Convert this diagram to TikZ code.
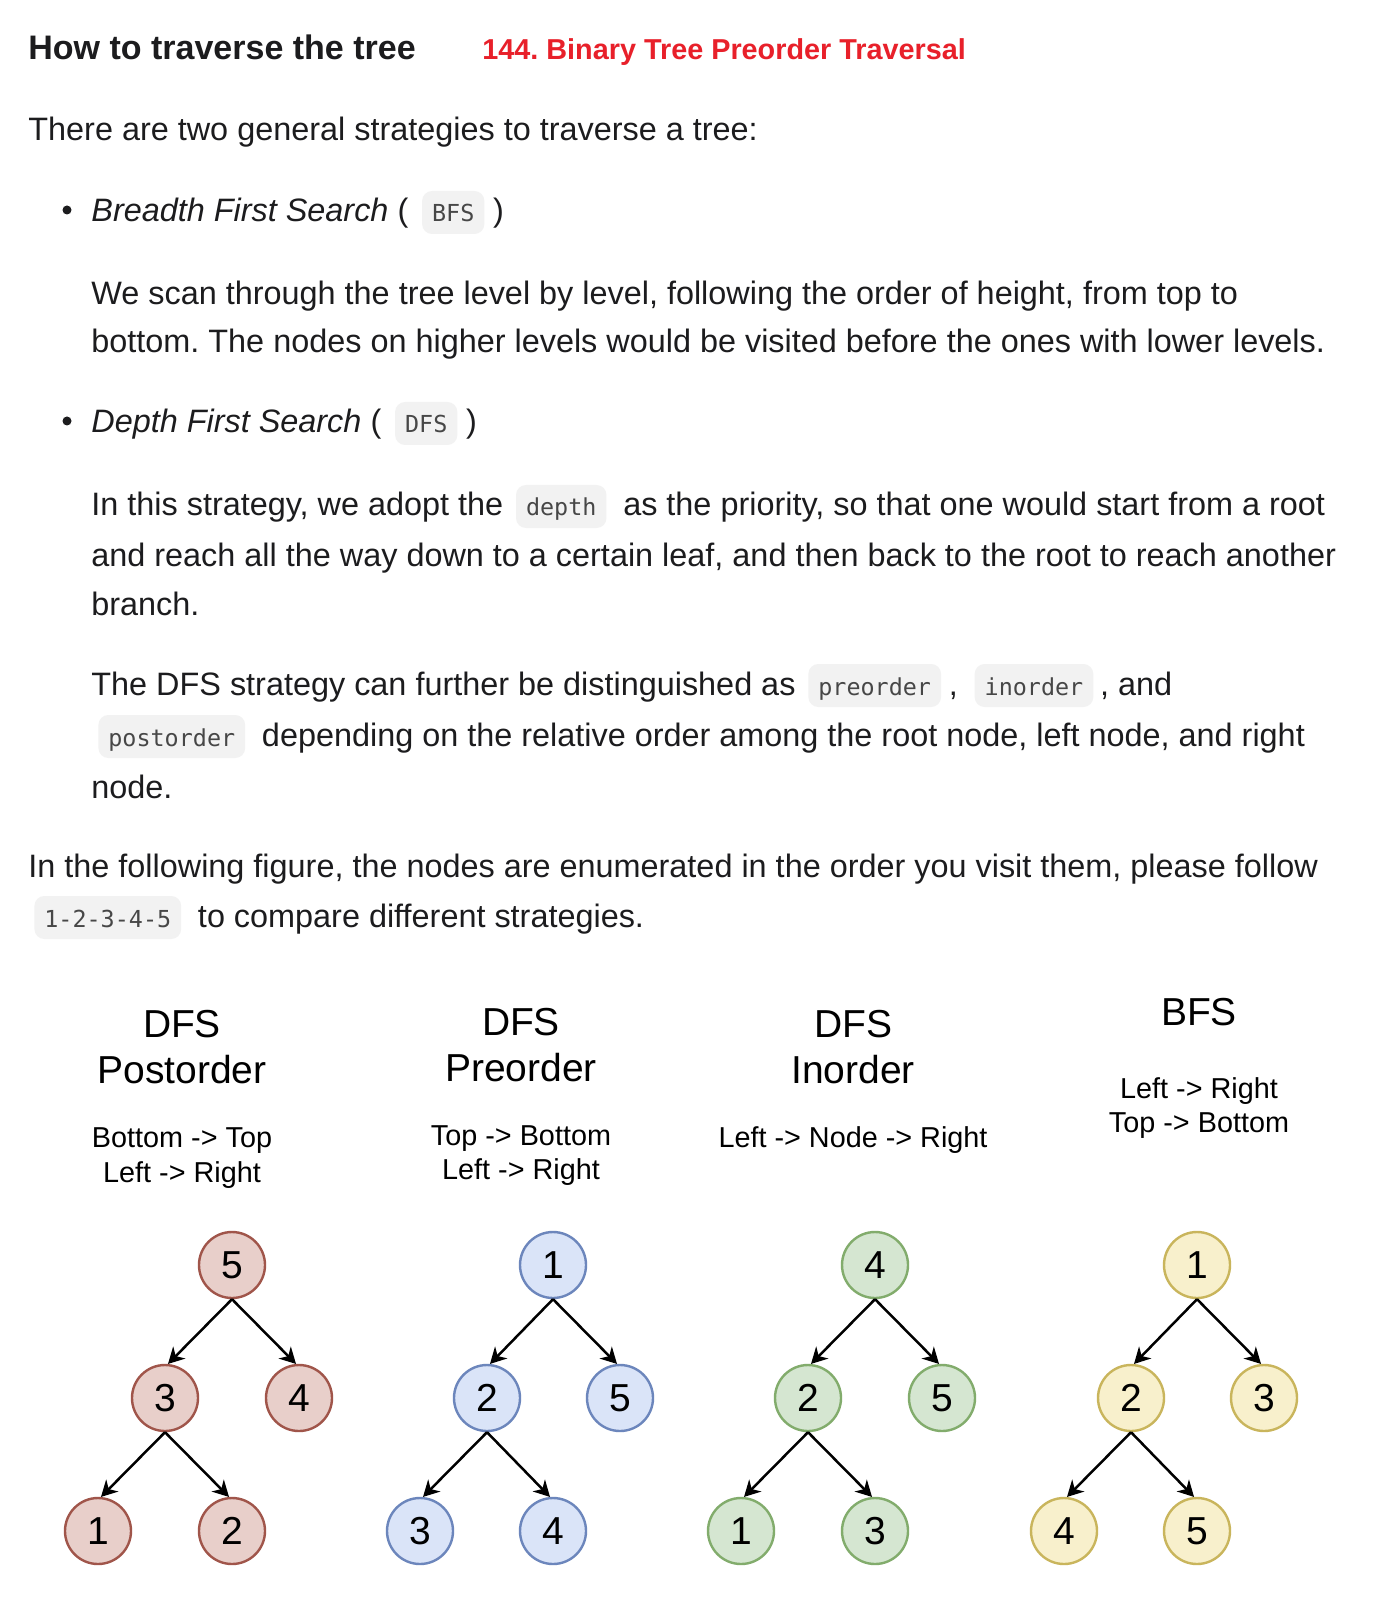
\documentclass[tikz,border=0pt]{standalone}
\usepackage{fontspec}
\setmainfont{Liberation Sans}
\setmonofont{DejaVu Sans Mono}
\usetikzlibrary{arrows.meta,positioning}
\frenchspacing
\definecolor{txt}{HTML}{1C1C1E}
\definecolor{titlered}{HTML}{E8202A}
\definecolor{codebg}{HTML}{F2F2F2}
\definecolor{codetxt}{HTML}{474747}
\definecolor{redfill}{HTML}{E8CFCA}
\definecolor{redline}{HTML}{A0554A}
\definecolor{bluefill}{HTML}{DAE4F8}
\definecolor{blueline}{HTML}{6C86BC}
\definecolor{greenfill}{HTML}{D5E6D1}
\definecolor{greenline}{HTML}{82AC6C}
\definecolor{yellowfill}{HTML}{F8F0CC}
\definecolor{yellowline}{HTML}{C9B55C}
\tikzstyle{arrow} = [line width=1.25pt,-{Stealth[length=8pt,width=8.5pt,inset=2.5pt]}]
\tikzstyle{para} = [anchor=base west, inner sep=0pt, text=txt, font=\fontsize{16.2}{19}\selectfont]
\tikzstyle{code} = [anchor=base west, fill=codebg, rounded corners=5pt, text=codetxt, inner xsep=5pt, inner ysep=0pt, text height=15.5pt, text depth=6pt, font=\fontsize{11.7}{14}\ttfamily]
\tikzstyle{head} = [anchor=base, inner sep=0pt, font=\fontsize{19.5}{22}\selectfont]
\tikzstyle{sub} = [anchor=base, inner sep=0pt, font=\fontsize{14.4}{17}\selectfont]
\tikzstyle{vtx} = [circle, line width=1.2pt, minimum size=33pt, inner sep=0pt, font=\fontsize{19.5}{19.5}\selectfont]
\tikzstyle{redv} = [vtx, draw=redline, fill=redfill]
\tikzstyle{bluev} = [vtx, draw=blueline, fill=bluefill]
\tikzstyle{greenv} = [vtx, draw=greenline, fill=greenfill]
\tikzstyle{yellowv} = [vtx, draw=yellowline, fill=yellowfill]
\begin{document}
\begin{tikzpicture}[x=0.5pt, y=-0.5pt]
\fill[white] (0,0) rectangle (1376,1598);

% Heading
\node[para, font=\fontsize{17}{20}\selectfont\bfseries] (title) at (28,60) {How to traverse the tree};
\node[para, text=titlered, font=\fontsize{14.4}{17}\selectfont\bfseries] (problem) at (482,60) {144. Binary Tree Preorder Traversal};

\node[para] (intro) at (28,141) {There are two general strategies to traverse a tree:};

% BFS item
\fill[txt] (67,210) circle (4.5);
\node[para] (bfsA) at (91,222) {\textit{Breadth First Search} (};
\node[code] (bfscode) at ([xshift=6.5pt]bfsA.base east) {BFS};
\node[para] (bfsB) at ([xshift=4pt]bfscode.base east) {)};
\node[para] (bfsC) at (91,305) {We scan through the tree level by level, following the order of height, from top to};
\node[para] (bfsD) at (91,353) {bottom. The nodes on higher levels would be visited before the ones with lower levels.};

% DFS item
\fill[txt] (67,421) circle (4.5);
\node[para] (dfsA) at (91,433) {\textit{Depth First Search} (};
\node[code] (dfscode) at ([xshift=6.5pt]dfsA.base east) {DFS};
\node[para] (dfsB) at ([xshift=4pt]dfscode.base east) {)};

\node[para] (stratA) at (91,516) {In this strategy, we adopt the};
\node[code] (depth) at ([xshift=6pt]stratA.base east) {depth};
\node[para] (stratB) at ([xshift=8pt]depth.base east) {as the priority, so that one would start from a root};
\node[para] (stratC) at (91,567) {and reach all the way down to a certain leaf, and then back to the root to reach another};
\node[para] (stratD) at (91,615) {branch.};

\node[para] (kindA) at (91,695) {The DFS strategy can further be distinguished as};
\node[code] (precode) at ([xshift=6pt]kindA.base east) {preorder};
\node[para] (kindB) at ([xshift=3.5pt]precode.base east) {,};
\node[code] (incode) at ([xshift=8pt]kindB.base east) {inorder};
\node[para] (kindC) at ([xshift=3pt]incode.base east) {, and};
\node[code] (postcode) at (98,746) {postorder};
\node[para] (kindD) at ([xshift=8pt]postcode.base east) {depending on the relative order among the root node, left node, and right};
\node[para] (kindE) at (91,798) {node.};

\node[para] (figA) at (28,877) {In the following figure, the nodes are enumerated in the order you visit them, please follow};
\node[code] (seq) at (34,927) {1-2-3-4-5};
\node[para] (figB) at ([xshift=8pt]seq.base east) {to compare different strategies.};

% Tree captions
\node[head] (postT) at (182,1037) {DFS};
\node[head] (postU) at (182,1083) {Postorder};
\node[sub] (postV) at (182,1147) {Bottom -> Top};
\node[sub] (postW) at (182,1182) {Left -> Right};

\node[head] (preT) at (521,1035) {DFS};
\node[head] (preU) at (521,1081) {Preorder};
\node[sub] (preV) at (521,1145) {Top -> Bottom};
\node[sub] (preW) at (521,1179) {Left -> Right};

\node[head] (inT) at (853,1037) {DFS};
\node[head] (inU) at (853,1083) {Inorder};
\node[sub] (inV) at (853,1147) {Left -> Node -> Right};

\node[head] (bfsT) at (1199,1025) {BFS};
\node[sub] (bfsU) at (1199,1098) {Left -> Right};
\node[sub] (bfsV) at (1199,1132) {Top -> Bottom};

% Postorder tree
\node[redv] (post5) at (232,1265) {5};
\node[redv] (post3) at (165,1398) {3};
\node[redv] (post4) at (299,1398) {4};
\node[redv] (post1) at (98,1531) {1};
\node[redv] (post2) at (232,1531) {2};
\draw[arrow] (post5.south) -- (post3.85);
\draw[arrow] (post5.south) -- (post4.95);
\draw[arrow] (post3.south) -- (post1.85);
\draw[arrow] (post3.south) -- (post2.95);

% Preorder tree
\node[bluev] (pre1) at (553,1265) {1};
\node[bluev] (pre2) at (487,1398) {2};
\node[bluev] (pre5) at (620,1398) {5};
\node[bluev] (pre3) at (420,1531) {3};
\node[bluev] (pre4) at (553,1531) {4};
\draw[arrow] (pre1.south) -- (pre2.85);
\draw[arrow] (pre1.south) -- (pre5.95);
\draw[arrow] (pre2.south) -- (pre3.85);
\draw[arrow] (pre2.south) -- (pre4.95);

% Inorder tree
\node[greenv] (in4) at (875,1265) {4};
\node[greenv] (in2) at (808,1398) {2};
\node[greenv] (in5) at (942,1398) {5};
\node[greenv] (in1) at (741,1531) {1};
\node[greenv] (in3) at (875,1531) {3};
\draw[arrow] (in4.south) -- (in2.85);
\draw[arrow] (in4.south) -- (in5.95);
\draw[arrow] (in2.south) -- (in1.85);
\draw[arrow] (in2.south) -- (in3.95);

% BFS tree
\node[yellowv] (bfs1) at (1197,1265) {1};
\node[yellowv] (bfs2) at (1131,1398) {2};
\node[yellowv] (bfs3) at (1264,1398) {3};
\node[yellowv] (bfs4) at (1064,1531) {4};
\node[yellowv] (bfs5) at (1197,1531) {5};
\draw[arrow] (bfs1.south) -- (bfs2.85);
\draw[arrow] (bfs1.south) -- (bfs3.95);
\draw[arrow] (bfs2.south) -- (bfs4.85);
\draw[arrow] (bfs2.south) -- (bfs5.95);

\end{tikzpicture}
\end{document}
